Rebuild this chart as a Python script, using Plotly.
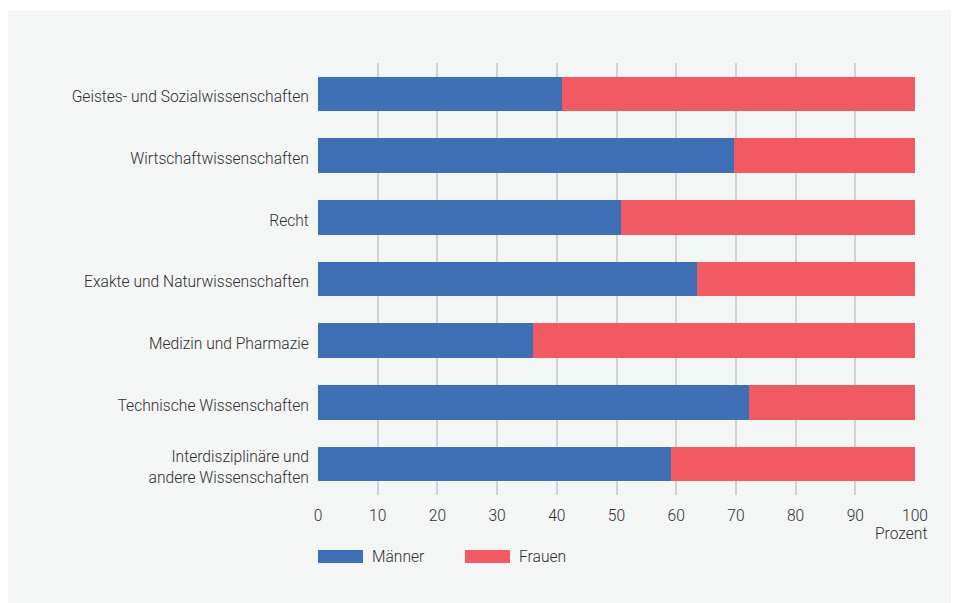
import plotly.graph_objects as go

categories = [
    "Geistes- und Sozialwissenschaften",
    "Wirtschaftwissenschaften",
    "Recht",
    "Exakte und Naturwissenschaften",
    "Medizin und Pharmazie",
    "Technische Wissenschaften",
    "Interdisziplinäre und<br>andere Wissenschaften",
]
maenner = [40.8, 69.6, 50.8, 63.4, 36.0, 72.2, 59.1]
frauen = [round(100 - v, 1) for v in maenner]
x_ticks = [0, 10, 20, 30, 40, 50, 60, 70, 80, 90, 100]
series_names = ["Männer", "Frauen"]
colors = ["#3f6fb5", "#f15a62"]

# page has an 8px body margin; work in screen pixels and shift by OFF
OFF = 8
W, H = 959 - OFF, 603 - OFF
L, R, T, B = 318 - OFF, 959 - 915, 63 - OFF, 603 - 495
pw, ph = W - L - R, H - T - B

def px(x):
    return (x - OFF - L) / pw

def py(y):
    return (H - B - (y - OFF)) / ph

FONT = "Roboto"
FS = 15.6
FW = 300
TXT = "#2e2e2e"

def f():
    return dict(family=FONT, size=FS, color=TXT, weight=FW)

fig = go.Figure()
fig.add_trace(go.Bar(y=categories, x=maenner, orientation="h", name=series_names[0],
                     marker=dict(color=colors[0], line=dict(width=0)), showlegend=False))
fig.add_trace(go.Bar(y=categories, x=frauen, orientation="h", name=series_names[1],
                     marker=dict(color=colors[1], line=dict(width=0)), showlegend=False))

shapes = [
    dict(type="rect", xref="paper", yref="paper", x0=px(8), x1=px(970), y0=py(620), y1=py(10),
         fillcolor="#f4f5f5", line=dict(width=0), layer="below"),
]
annotations = []
# manual legend
leg = [(318, 363, 370), (465, 510, 517)]
for (x0, x1, tx), name, c in zip(leg, series_names, colors):
    shapes.append(dict(type="rect", xref="paper", yref="paper", x0=px(x0), x1=px(x1),
                       y0=py(563), y1=py(550), fillcolor=c, line=dict(width=0)))
    annotations.append(dict(text=name, xref="paper", yref="paper", x=px(tx), y=py(557),
                            xanchor="left", yanchor="middle", showarrow=False, font=f()))
annotations.append(dict(text="Prozent", xref="paper", yref="paper", x=px(929), y=py(534),
                        xanchor="right", yanchor="middle", showarrow=False, font=f()))

fig.update_layout(
    width=W, height=H,
    margin=dict(l=L, r=R, t=T, b=B, pad=0),
    paper_bgcolor="white", plot_bgcolor="rgba(0,0,0,0)",
    barmode="stack", bargap=0.44,
    font=f(),
    shapes=shapes, annotations=annotations,
    showlegend=False,
    xaxis=dict(range=[0, 100], tickvals=x_ticks, showgrid=True, gridcolor="#d2d2d2", gridwidth=1.5,
               zeroline=False, showline=False, ticks="outside", ticklen=6, tickcolor="rgba(0,0,0,0)",
               tickfont=f(), fixedrange=True),
    yaxis=dict(categoryorder="array", categoryarray=categories, autorange="reversed",
               showgrid=False, zeroline=False, showline=False, ticks="outside", ticklen=5,
               ticklabelshift=-3,
               tickcolor="rgba(0,0,0,0)", tickfont=f()),
)

fig.write_html("out.html")
